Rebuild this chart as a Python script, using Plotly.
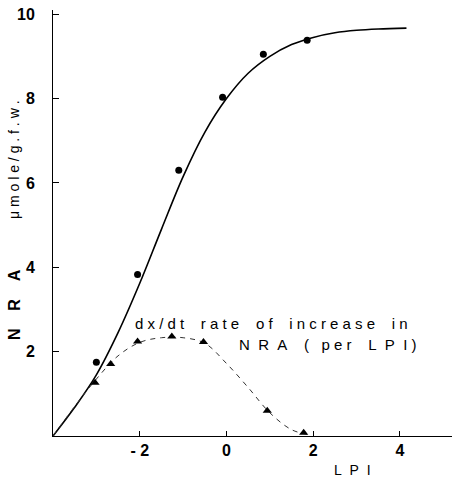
import plotly.graph_objects as go

# NRA curve (solid)
nra_curve_x = [-4, -3.5, -3, -2.5, -2, -1.5, -1, -0.5, 0, 0.5, 1, 1.5, 2, 2.5, 3, 3.5, 4.15]
nra_curve_y = [0, 0.68, 1.45, 2.45, 3.62, 4.9, 6.15, 7.2, 8.0, 8.6, 9.0, 9.28, 9.45, 9.56, 9.62, 9.65, 9.67]

# NRA measured points (circles)
nra_pts_x = [-3.0, -2.05, -1.1, -0.09, 0.85, 1.86]
nra_pts_y = [1.75, 3.83, 6.3, 8.03, 9.05, 9.38]

# rate curve (dashed)
rate_curve_x = [-4, -3.5, -3, -2.5, -2, -1.5, -1, -0.5, 0, 0.5, 1, 1.5, 1.9]
rate_curve_y = [0, 0.7, 1.35, 1.9, 2.22, 2.33, 2.33, 2.2, 1.72, 1.15, 0.55, 0.15, 0.03]

# rate points (triangles)
rate_pts_x = [-3.03, -2.67, -2.05, -1.26, -0.53, 0.94, 1.78]
rate_pts_y = [1.26, 1.71, 2.24, 2.36, 2.23, 0.6, 0.08]

x_tickvals = [-2, 0, 2, 4]
x_ticktext = ["- 2", "0", "2", "4"]
y_tickvals = [2, 4, 6, 8, 10]
y_ticktext = ["2", "4", "6", "8", "10"]

FONT = "Liberation Sans, Arial, sans-serif"
NB = "\u00a0"


def spaced(s, gap=NB, wordgap=NB * 3):
    words = s.split(" ")
    return wordgap.join(gap.join(list(w)) for w in words)


fig = go.Figure()
fig.add_trace(go.Scatter(x=nra_curve_x, y=nra_curve_y, mode="lines",
                         line=dict(color="black", width=1.6, shape="spline"),
                         hoverinfo="skip"))
fig.add_trace(go.Scatter(x=rate_curve_x, y=rate_curve_y, mode="lines",
                         line=dict(color="#333333", width=1, dash="5px,5px", shape="spline"),
                         hoverinfo="skip"))
fig.add_trace(go.Scatter(x=nra_pts_x, y=nra_pts_y, mode="markers",
                         marker=dict(symbol="circle", size=7, color="black")))
fig.add_trace(go.Scatter(x=rate_pts_x, y=rate_pts_y, mode="markers",
                         marker=dict(symbol="triangle-up", size=8, color="black")))

W, H = 454, 479
L, R, T, B = 53, 2, 10, 43
pw, ph = W - L - R, H - T - B

fig.update_layout(
    width=W, height=H,
    margin=dict(l=L, r=R, t=T, b=B),
    paper_bgcolor="white", plot_bgcolor="white",
    showlegend=False,
    font=dict(family=FONT, color="black"),
    xaxis=dict(range=[-4, 5.2], showgrid=False, zeroline=False, showline=True,
               linecolor="black", linewidth=1, ticks="inside", ticklen=5,
               tickcolor="black", tickvals=x_tickvals, ticktext=x_ticktext,
               tickfont=dict(size=16, family=FONT, color="black", weight="bold")),
    yaxis=dict(range=[0, 10.1], showgrid=False, zeroline=False, showline=True,
               linecolor="black", linewidth=1, ticks="inside", ticklen=6,
               tickcolor="black", tickvals=y_tickvals, ticktext=y_ticktext,
               ticklabelstandoff=14,
               tickfont=dict(size=16, family=FONT, color="black", weight="bold")),
)


def px(xp):
    return (xp - L) / pw


def py(yp):
    return (H - B - yp) / ph


line1 = spaced("dx/dt rate of increase in", NB, NB * 4)
line2 = ("N" + NB * 2 + "R" + NB * 2 + "A" + NB * 4 + "(" + NB * 3 +
         "p" + NB + "e" + NB + "r" + NB * 4 +
         "L" + NB * 2 + "P" + NB * 2 + "I" + NB + ")")

fig.add_annotation(text=line1, x=px(133), y=py(323),
                   xref="paper", yref="paper", xanchor="left", yanchor="middle",
                   showarrow=False, font=dict(size=15, family=FONT, color="black"))
fig.add_annotation(text=line2, x=px(237), y=py(344),
                   xref="paper", yref="paper", xanchor="left", yanchor="middle",
                   showarrow=False, font=dict(size=15, family=FONT, color="black"))
fig.add_annotation(text=spaced("LPI", NB * 2), x=px(352), y=py(470),
                   xref="paper", yref="paper", xanchor="center", yanchor="middle",
                   showarrow=False, borderpad=0,
                   font=dict(size=14, family=FONT, color="black"))
fig.add_annotation(text="<b>" + spaced("NRA", NB * 4) + "</b>", x=px(14), y=py(305),
                   xref="paper", yref="paper", xanchor="center", yanchor="middle",
                   textangle=-90, showarrow=False,
                   font=dict(size=16, family=FONT, color="black"))
fig.add_annotation(text=spaced("μmole/g.f.w.", NB), x=px(14), y=py(160),
                   xref="paper", yref="paper", xanchor="center", yanchor="middle",
                   textangle=-90, showarrow=False,
                   font=dict(size=14, family=FONT, color="black"))

fig.write_html("out.html", config={"displayModeBar": False},
               post_script="document.body.style.margin='0';document.body.style.overflow='hidden';")
